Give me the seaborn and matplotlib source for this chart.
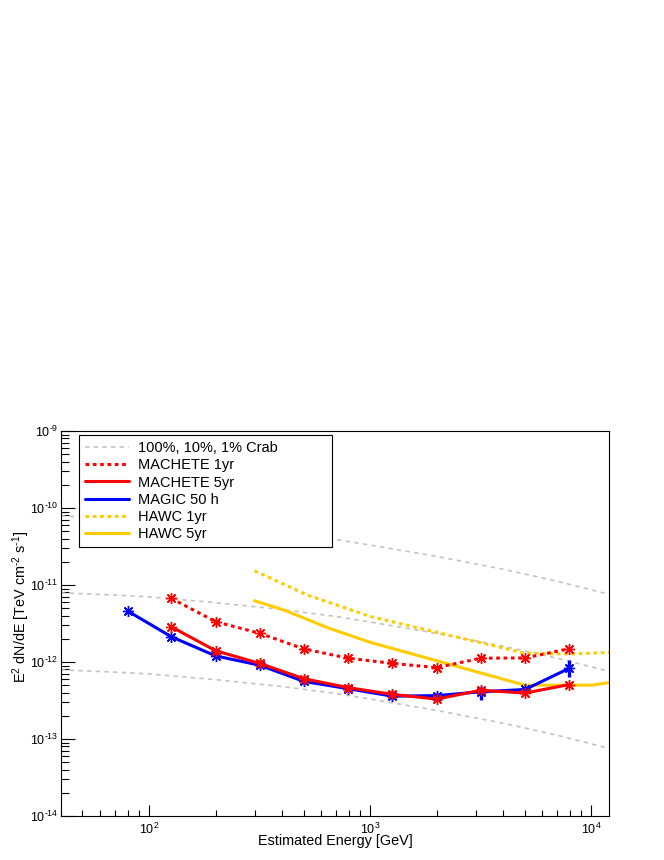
import numpy as np
import matplotlib
matplotlib.use("Agg")
import matplotlib.pyplot as plt
import seaborn as sns
from matplotlib.lines import Line2D
from matplotlib.ticker import FixedLocator, FuncFormatter, LogLocator, NullFormatter

# ---------------- data ----------------
crab_energy = [40, 70, 100, 200, 400, 700, 1000, 2000, 4000, 7000, 11500]
crab_100 = [7.9e-11, 7.4e-11, 7.0e-11, 5.9e-11, 4.8e-11, 3.9e-11, 3.3e-11, 2.35e-11, 1.6e-11, 1.12e-11, 7.8e-12]
crab_10 = [7.9e-12, 7.4e-12, 7.0e-12, 5.9e-12, 4.8e-12, 3.9e-12, 3.3e-12, 2.35e-12, 1.6e-12, 1.12e-12, 7.8e-13]
crab_1 = [7.9e-13, 7.4e-13, 7.0e-13, 5.9e-13, 4.8e-13, 3.9e-13, 3.3e-13, 2.35e-13, 1.6e-13, 1.12e-13, 7.8e-14]

magic_energy = [80, 126, 200, 316, 501, 794, 1259, 1995, 3162, 5012, 7943]
magic_50h = [4.6e-12, 2.13e-12, 1.20e-12, 9.1e-13, 5.6e-13, 4.5e-13, 3.6e-13, 3.66e-13, 4.1e-13, 4.4e-13, 8.3e-13]
magic_low = [4.4e-12, 2.03e-12, 1.13e-12, 8.5e-13, 5.2e-13, 4.2e-13, 3.35e-13, 3.4e-13, 3.2e-13, 4.0e-13, 6.3e-13]
magic_high = [4.8e-12, 2.23e-12, 1.27e-12, 9.7e-13, 6.0e-13, 4.8e-13, 3.9e-13, 3.95e-13, 4.75e-13, 4.8e-13, 1.06e-12]

machete_energy = [126, 200, 316, 501, 794, 1259, 1995, 3162, 5012, 7943]
machete_1yr = [6.7e-12, 3.34e-12, 2.36e-12, 1.48e-12, 1.12e-12, 9.6e-13, 8.45e-13, 1.12e-12, 1.13e-12, 1.49e-12]
machete_5yr = [2.87e-12, 1.40e-12, 9.6e-13, 6.07e-13, 4.65e-13, 3.8e-13, 3.3e-13, 4.3e-13, 3.95e-13, 5.1e-13]

hawc1_energy = [300, 520, 1000, 5000, 8000, 12000]
hawc_1yr = [1.53e-11, 7.4e-12, 3.9e-12, 1.30e-12, 1.27e-12, 1.33e-12]
hawc5_energy = [300, 410, 650, 1000, 5000, 10000, 12000]
hawc_5yr = [6.25e-12, 4.7e-12, 2.75e-12, 1.8e-12, 5.0e-13, 5.0e-13, 5.4e-13]

legend_labels = ["100%, 10%, 1% Crab", "MACHETE 1yr", "MACHETE 5yr",
                 "MAGIC 50 h", "HAWC 1yr", "HAWC 5yr"]
x_ticks = [1e2, 1e3, 1e4]
y_ticks = [1e-14, 1e-13, 1e-12, 1e-11, 1e-10, 1e-9]

# ---------------- style ----------------
sns.set_theme(style="white")
plt.rcParams["font.family"] = ["Liberation Sans", "DejaVu Sans"]
plt.rcParams["mathtext.fontset"] = "custom"
plt.rcParams["mathtext.rm"] = "Liberation Sans"
plt.rcParams["mathtext.it"] = "Liberation Sans:italic"
plt.rcParams["mathtext.bf"] = "Liberation Sans:bold"

GRAY = "#c4c4c4"
RED = "#ff0000"
BLUE = "#0000ff"
GOLD = "#ffcc00"
DASH = (0, (2.6, 2.6))
DOT = (0, (1.2, 1.2))
STAR = (8, 2, 0)

fig = plt.figure(figsize=(6.64, 8.6), dpi=100)
fig.patch.set_facecolor("white")
ax = fig.add_axes([61 / 664, 44 / 860, 548 / 664, 385 / 860])
ax.set_facecolor("white")
ax.set_xscale("log")
ax.set_yscale("log")

common = dict(ax=ax, estimator=None, sort=False, legend=False)

for vals in (crab_100, crab_10, crab_1):
    sns.lineplot(x=crab_energy, y=vals, color=GRAY, lw=1.2, linestyle=DASH, zorder=1, **common)

sns.lineplot(x=hawc1_energy, y=hawc_1yr, color=GOLD, lw=2.2, linestyle=DOT, zorder=2, **common)
sns.lineplot(x=hawc5_energy, y=hawc_5yr, color=GOLD, lw=2.2, zorder=2, **common)

magic_arr = np.array(magic_50h)
ax.errorbar(magic_energy, magic_50h,
            yerr=[magic_arr - np.array(magic_low), np.array(magic_high) - magic_arr],
            fmt="none", ecolor=BLUE, elinewidth=2.4, capsize=0, zorder=3)
sns.lineplot(x=magic_energy, y=magic_50h, color=BLUE, lw=2.2, marker=STAR, markersize=8,
             mec=BLUE, mew=1.0, zorder=3, **common)

sns.lineplot(x=machete_energy, y=machete_1yr, color=RED, lw=2.2, linestyle=DOT, marker=STAR,
             markersize=8, mec=RED, mew=1.0, zorder=4, **common)
sns.lineplot(x=machete_energy, y=machete_5yr, color=RED, lw=2.2, marker=STAR,
             markersize=8, mec=RED, mew=1.0, zorder=5, **common)

# ---------------- axes ----------------
ax.set_xlim(40, 12000)
ax.set_ylim(1e-14, 1e-9)


def pow_label(v, p):
    e = int(round(np.log10(v)))
    if e < 0:
        return r"$10^{\text{-}%d}$" % (-e)
    return r"$10^{%d}$" % e


fmt = FuncFormatter(pow_label)
ax.xaxis.set_major_locator(FixedLocator(x_ticks))
ax.yaxis.set_major_locator(FixedLocator(y_ticks))
ax.xaxis.set_major_formatter(fmt)
ax.yaxis.set_major_formatter(fmt)
ax.xaxis.set_minor_locator(LogLocator(base=10, subs=range(2, 10), numticks=30))
ax.yaxis.set_minor_locator(LogLocator(base=10, subs=range(2, 10), numticks=30))
ax.xaxis.set_minor_formatter(NullFormatter())
ax.yaxis.set_minor_formatter(NullFormatter())

ax.tick_params(which="both", direction="in", bottom=True, left=True, top=False, right=False,
               color="black", width=0.8)
ax.tick_params(axis="x", which="major", length=8.1, labelsize=9, pad=4.5, labelcolor="black")
ax.tick_params(axis="x", which="minor", length=4.1)
ax.tick_params(axis="y", which="major", length=10, labelsize=9, pad=2, labelcolor="black")
ax.tick_params(axis="y", which="minor", length=6)

for side in ("left", "bottom", "top", "right"):
    ax.spines[side].set_color("black")
    ax.spines[side].set_linewidth(0.8)
    ax.spines[side].set_visible(True)
ax.grid(False)

ax.set_xlabel("Estimated Energy [GeV]", fontsize=10.4, color="black")
ax.xaxis.set_label_coords(0.5, -0.046)
ax.set_ylabel(r"E$^{2}$ dN/dE [TeV cm$^{\text{-}2}$ s$^{\text{-}1}$]", fontsize=10.4, color="black")
ax.yaxis.set_label_coords(-0.053, 0.5436)

# ---------------- legend ----------------
handles = [
    Line2D([], [], color=GRAY, lw=1.2, linestyle=DASH),
    Line2D([], [], color=RED, lw=2.2, linestyle=DOT),
    Line2D([], [], color=RED, lw=2.2),
    Line2D([], [], color=BLUE, lw=2.2),
    Line2D([], [], color=GOLD, lw=2.2, linestyle=DOT),
    Line2D([], [], color=GOLD, lw=2.2),
]
leg = ax.legend(handles, legend_labels, loc="upper left",
                bbox_to_anchor=(0.0334, 0.7039, 0.4611, 0.2849), mode="expand",
                fontsize=10.5, handlelength=3.0, handletextpad=0.64, labelspacing=0.22,
                borderpad=0.4, borderaxespad=0, frameon=True, fancybox=False,
                framealpha=1, edgecolor="black")
leg.get_frame().set_linewidth(0.8)
for t in leg.get_texts():
    t.set_color("black")

fig.savefig("out.png", dpi=100)
